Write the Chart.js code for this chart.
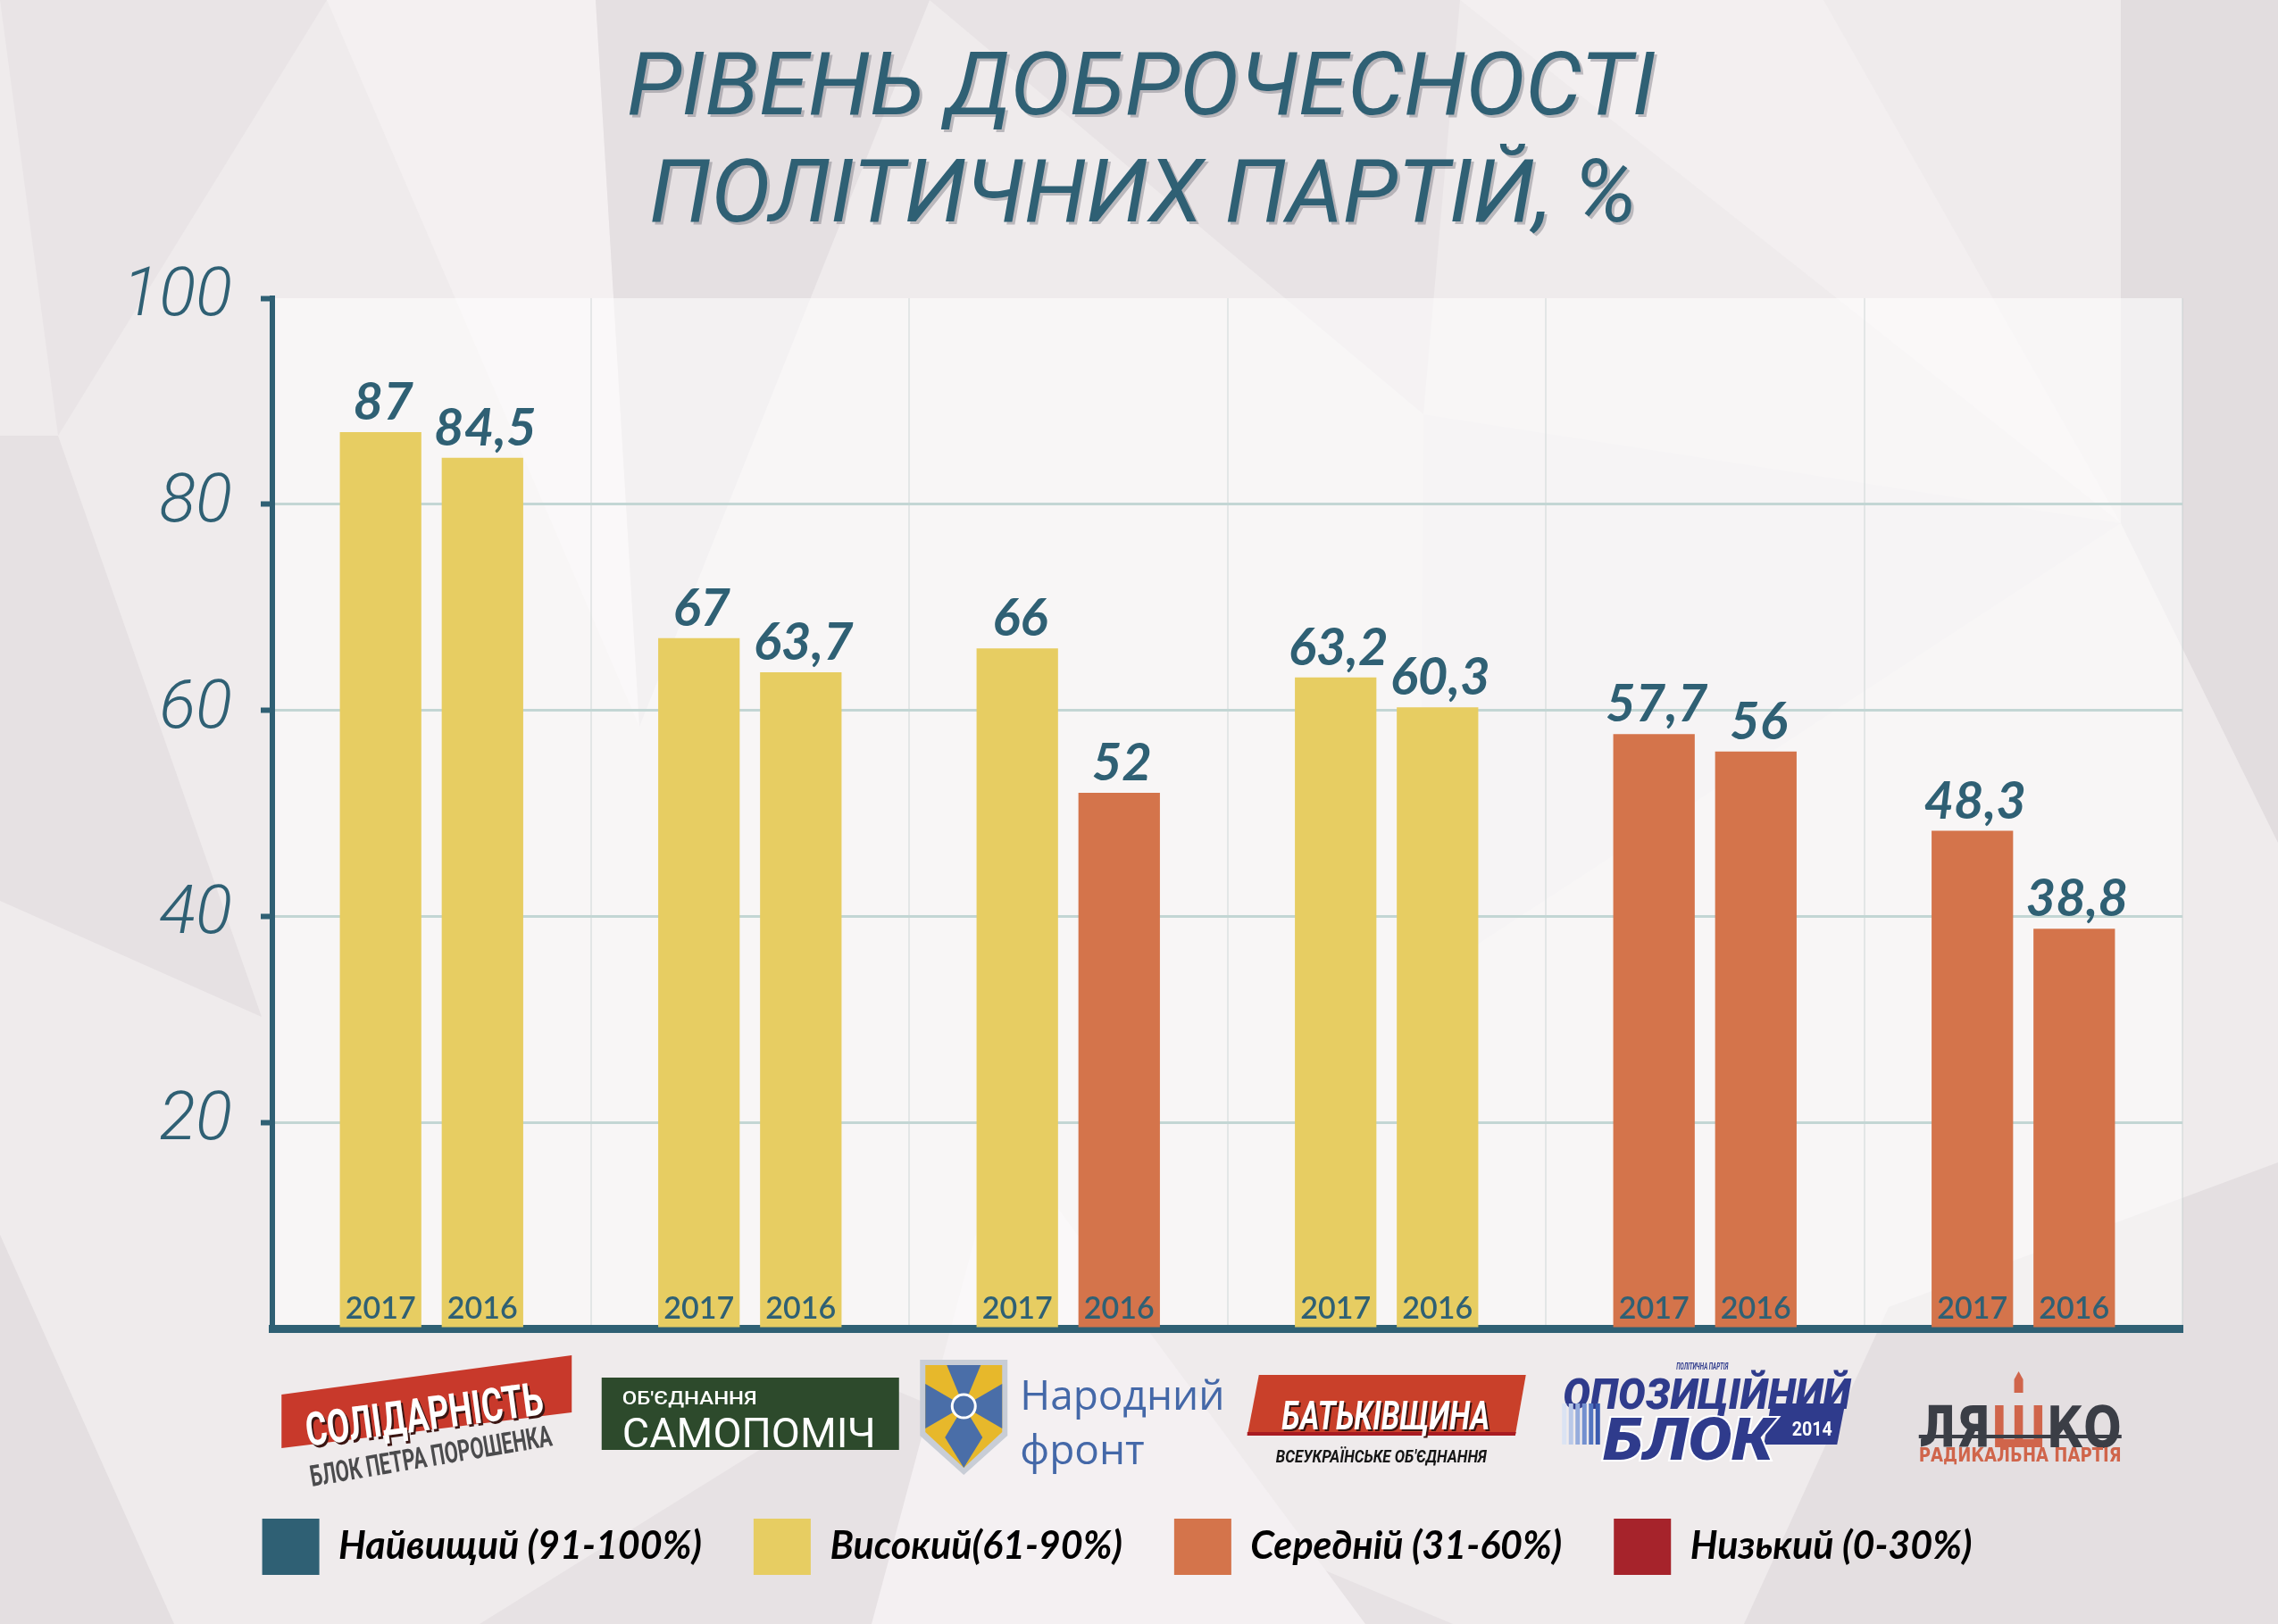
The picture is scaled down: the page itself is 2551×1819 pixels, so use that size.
<!DOCTYPE html>
<html>
<head>
<meta charset="utf-8">
<title>Рівень доброчесності політичних партій</title>
<script src="https://cdn.jsdelivr.net/npm/chart.js@4.4.1/dist/chart.umd.min.js"></script>
<style>
  html, body { margin: 0; padding: 0; background: #efebec; }
  canvas { display: block; }
</style>
</head>
<body>
<canvas id="integrityChart" width="2551" height="1819" style="width:2551px;height:1819px"></canvas>
<script>
// дані з інфографіки
const titleLines = ["РІВЕНЬ ДОБРОЧЕСНОСТІ", "ПОЛІТИЧНИХ ПАРТІЙ, %"];
const parties = ["Солідарність", "Самопоміч", "Народний фронт", "Батьківщина", "Опозиційний блок", "Радикальна партія Ляшка"];
const years = ["2017", "2016"];
const values2017 = [87, 67, 66, 63.2, 57.7, 48.3];
const values2016 = [84.5, 63.7, 52, 60.3, 56, 38.8];
const yTicks = [0, 20, 40, 60, 80, 100];
const levelNames = ["Найвищий (91-100%)", "Високий(61-90%)", "Середній (31-60%)", "Низький (0-30%)"];
const levelColors = ["#2f6074", "#e7cd62", "#d4744b", "#a6232b"];

const TEAL = "#2f6074";

// колір стовпчика за рівнем
function levelColor(v) {
  if (v > 90) return levelColors[0];
  if (v > 60) return levelColors[1];
  if (v > 30) return levelColors[2];
  return levelColors[3];
}

// текст, розтягнутий/стиснутий до заданої ширини
function fitText(ctx, text, x, y, width, align) {
  const w = ctx.measureText(text).width;
  const s = width / w;
  ctx.save();
  ctx.translate(x, y);
  ctx.scale(s, 1);
  ctx.textAlign = align || "center";
  ctx.fillText(text, 0, 0);
  ctx.restore();
}

function poly(ctx, pts, color) {
  ctx.fillStyle = color;
  ctx.beginPath();
  ctx.moveTo(pts[0][0], pts[0][1]);
  for (let i = 1; i < pts.length; i++) ctx.lineTo(pts[i][0], pts[i][1]);
  ctx.closePath();
  ctx.fill();
}

// фон з трикутниками
const bgTriangles = [
  [[[0,0],[366,0],[65,488]], "#e9e4e6"],
  [[[366,0],[667,0],[716,814]], "#f4f0f1"],
  [[[667,0],[1041,0],[716,814]], "#e5e0e2"],
  [[[1041,0],[1635,0],[1594,464]], "#e8e3e5"],
  [[[1635,0],[2042,0],[2375,586]], "#f3eff0"],
  [[[2375,0],[2551,0],[2551,944],[2375,586]], "#e2dddf"],
  [[[0,488],[65,488],[293,1139],[0,1009]], "#e6e1e3"],
  [[[0,1383],[195,1819],[0,1819]], "#e4dfe1"],
  [[[976,1546],[1627,1819],[537,1819]], "#e7e2e4"],
  [[[1123,1270],[1529,1819],[976,1819]], "#f4f0f2"],
  [[[2115,1464],[2551,1302],[2551,1819],[1953,1819]], "#e4dfe1"],
  [[[1594,464],[2375,586],[1590,1100]], "#ece7e9"]
];

const backdropPlugin = {
  id: "backdrop",
  beforeDraw(chart) {
    const ctx = chart.ctx;
    const a = chart.chartArea;
    ctx.save();
    ctx.fillStyle = "#efebec";
    ctx.fillRect(0, 0, chart.width, chart.height);
    bgTriangles.forEach(t => poly(ctx, t[0], t[1]));
    // світла підкладка області графіка
    ctx.fillStyle = "rgba(255,255,255,0.55)";
    ctx.fillRect(a.left, a.top, a.right - a.left, a.bottom - a.top);
    // заголовок
    ctx.fillStyle = TEAL;
    ctx.font = "italic 400 98px Roboto, 'Open Sans', sans-serif";
    ctx.textBaseline = "alphabetic";
    ctx.shadowColor = "rgba(90,90,100,0.35)";
    ctx.shadowOffsetX = 3;
    ctx.shadowOffsetY = 3;
    fitText(ctx, titleLines[0], 1278, 128, 1152);
    fitText(ctx, titleLines[1], 1280, 248, 1106);
    ctx.restore();
  }
};

// підписи значень і років
const barLabelsPlugin = {
  id: "barLabels",
  afterDatasetsDraw(chart) {
    const ctx = chart.ctx;
    ctx.save();
    chart.data.datasets.forEach((ds, di) => {
      const meta = chart.getDatasetMeta(di);
      meta.data.forEach((bar, i) => {
        const v = ds.data[i];
        ctx.fillStyle = TEAL;
        ctx.textAlign = "center";
        ctx.textBaseline = "alphabetic";
        ctx.font = "italic bold 58px Lato, sans-serif";
        ctx.fillText(String(v).replace(".", ","), bar.x + 3, bar.y - 14);
        ctx.font = "600 34px Lato, sans-serif";
        ctx.fillText(ds.label, bar.x, bar.base - 10);
      });
    });
    ctx.restore();
  }
};

// логотипи партій під віссю
function logoSolidarnist(ctx, cx) {
  const x0 = cx - 168, x1 = cx + 157;
  poly(ctx, [[x0, 1562], [x1, 1518], [x1, 1582], [x0, 1622]], "#c8392b");
  const ang = Math.atan2(1518 - 1562, x1 - x0);
  ctx.save();
  ctx.translate((x0 + x1) / 2 - 2, 1589);
  ctx.rotate(ang);
  ctx.font = "bold 52px Roboto, sans-serif";
  ctx.fillStyle = "#3a1512";
  fitText(ctx, "СОЛІДАРНІСТЬ", 2, 3, 268);
  ctx.fillStyle = "#ffffff";
  fitText(ctx, "СОЛІДАРНІСТЬ", 0, 0, 268);
  ctx.restore();
  ctx.save();
  ctx.translate(cx - 2, 1624);
  ctx.rotate(ang * 1.25);
  ctx.font = "bold 33px Roboto, sans-serif";
  ctx.fillStyle = "#4b4b4d";
  fitText(ctx, "БЛОК ПЕТРА ПОРОШЕНКА", 0, 10, 274);
  ctx.restore();
}

function logoSamopomich(ctx, cx) {
  ctx.save();
  ctx.fillStyle = "#2d4a2c";
  ctx.fillRect(cx - 166, 1543, 333, 81);
  ctx.fillStyle = "#ffffff";
  ctx.font = "500 21px Roboto, sans-serif";
  fitText(ctx, "ОБ'ЄДНАННЯ", cx - 143, 1568, 151, "left");
  ctx.font = "46px Roboto, sans-serif";
  fitText(ctx, "САМОПОМІЧ", cx - 143, 1609, 284, "left");
  ctx.restore();
}

function logoNarodnyi(ctx, cx) {
  const L = cx - 166, R = cx - 68, M = (L + R) / 2, cy = 1575;
  poly(ctx, [[L, 1523], [R, 1523], [R, 1608], [M, 1652], [L, 1608]], "#c8cdd6");
  poly(ctx, [[L + 6, 1529], [R - 6, 1529], [R - 6, 1604], [M, 1644], [L + 6, 1604]], "#e7b82b");
  const blue = "#4a6ea8";
  poly(ctx, [[M - 19, 1529], [M + 19, 1529], [M, cy]], blue);
  poly(ctx, [[L + 6, 1550], [L + 6, 1600], [M, cy]], blue);
  poly(ctx, [[R - 6, 1550], [R - 6, 1600], [M, cy]], blue);
  poly(ctx, [[M, cy], [M - 21, 1610], [M, 1644], [M + 21, 1610]], blue);
  ctx.save();
  ctx.strokeStyle = "#ffffff";
  ctx.lineWidth = 3;
  ctx.beginPath();
  ctx.arc(M, cy, 13, 0, Math.PI * 2);
  ctx.fillStyle = blue;
  ctx.fill();
  ctx.stroke();
  ctx.fillStyle = "#4468a8";
  ctx.font = "46px 'Open Sans', sans-serif";
  ctx.textAlign = "left";
  ctx.fillText("Народний", cx - 54, 1566);
  ctx.fillText("фронт", cx - 54, 1627);
  ctx.restore();
}

function logoBatkivshchyna(ctx, cx) {
  poly(ctx, [[cx - 143, 1540], [cx + 156, 1540], [cx + 144, 1608], [cx - 156, 1608]], "#c9402a");
  poly(ctx, [[cx - 156, 1604], [cx + 145, 1604], [cx + 144, 1608], [cx - 156, 1608]], "#a81b22");
  ctx.save();
  ctx.font = "italic bold 44px Roboto, sans-serif";
  ctx.fillStyle = "#3b1410";
  fitText(ctx, "БАТЬКІВЩИНА", cx + 1, 1592, 233);
  ctx.fillStyle = "#ffffff";
  fitText(ctx, "БАТЬКІВЩИНА", cx - 1, 1590, 233);
  ctx.fillStyle = "#151515";
  ctx.font = "italic bold 20px Roboto, sans-serif";
  fitText(ctx, "ВСЕУКРАЇНСЬКЕ ОБ'ЄДНАННЯ", cx - 6, 1633, 236);
  ctx.restore();
}

function logoOpposition(ctx, cx) {
  const navy = "#2f3b8c";
  ctx.save();
  ctx.fillStyle = navy;
  ctx.font = "italic bold 10px Roboto, sans-serif";
  fitText(ctx, "ПОЛІТИЧНА ПАРТІЯ", cx - 3, 1531, 58);
  ctx.font = "italic 900 48px Roboto, sans-serif";
  fitText(ctx, "ОПОЗИЦІЙНИЙ", cx - 159, 1566, 322, "left");
  const stripes = ["#dbe3f3", "#b9c8e8", "#96acdc", "#7390cf", "#5274c0", "#3a5aae"];
  stripes.forEach((c, k) => {
    ctx.fillStyle = c;
    ctx.fillRect(cx - 160 + k * 7.5, 1572, 5, 46);
  });
  poly(ctx, [[cx + 74, 1572], [cx + 157, 1572], [cx + 148, 1618], [cx + 66, 1618]], navy);
  ctx.fillStyle = navy;
  ctx.font = "italic 900 66px Roboto, sans-serif";
  ctx.strokeStyle = "#ffffff";
  ctx.lineWidth = 4;
  ctx.save();
  const w = ctx.measureText("БЛОК").width;
  ctx.translate(cx - 114, 1618);
  ctx.scale(190 / w, 1);
  ctx.strokeText("БЛОК", 0, 0);
  ctx.fillText("БЛОК", 0, 0);
  ctx.restore();
  ctx.fillStyle = "#ffffff";
  ctx.font = "bold 22px Roboto, sans-serif";
  fitText(ctx, "2014", cx + 120, 1602, 45);
  ctx.restore();
}

function logoLyashko(ctx, cx) {
  const dark = "#3b3e46", red = "#d0654b";
  const left = cx - 117, width = 227;
  ctx.save();
  ctx.font = "bold 64px 'DejaVu Sans', sans-serif";
  const parts = [["ЛЯ", dark], ["Ш", red], ["КО", dark]];
  const total = parts.reduce((s, p) => s + ctx.measureText(p[0]).width, 0);
  const s = width / total;
  let x = 0, shCenter = 0;
  ctx.translate(left, 1604);
  ctx.scale(s, 1);
  ctx.textAlign = "left";
  parts.forEach(p => {
    const w = ctx.measureText(p[0]).width;
    if (p[1] === red) shCenter = x + w / 2;
    ctx.fillStyle = p[1];
    ctx.fillText(p[0], x, 0);
    x += w;
  });
  ctx.restore();
  const sx = left + shCenter * s;
  poly(ctx, [[sx - 5, 1560], [sx - 5, 1545], [sx, 1536], [sx + 5, 1545], [sx + 5, 1560]], red);
  ctx.save();
  ctx.fillStyle = dark;
  ctx.fillRect(left, 1607, width, 4);
  ctx.fillStyle = red;
  ctx.font = "bold 21px 'DejaVu Sans', sans-serif";
  fitText(ctx, "РАДИКАЛЬНА ПАРТІЯ", left, 1632, width, "left");
  ctx.restore();
}

const logoDrawers = [logoSolidarnist, logoSamopomich, logoNarodnyi, logoBatkivshchyna, logoOpposition, logoLyashko];

const logosPlugin = {
  id: "logos",
  afterDraw(chart) {
    const ctx = chart.ctx;
    const xScale = chart.scales.x;
    parties.forEach((p, i) => {
      ctx.save();
      logoDrawers[i](ctx, xScale.getPixelForValue(i));
      ctx.restore();
    });
  }
};

const chartArea = document.getElementById("integrityChart").getContext("2d");
const integrityChart = new Chart(chartArea, {
  type: "bar",
  data: {
    labels: parties,
    datasets: [
      { label: years[0], data: values2017, backgroundColor: c => levelColor(c.raw) },
      { label: years[1], data: values2016, backgroundColor: c => levelColor(c.raw) }
    ]
  },
  options: {
    responsive: false,
    animation: false,
    devicePixelRatio: 1,
    categoryPercentage: 0.64,
    barPercentage: 0.8,
    layout: { padding: { top: 334, left: 58, right: 107, bottom: 45 } },
    plugins: {
      title: { display: false },
      tooltip: { enabled: false },
      legend: {
        position: "bottom",
        onClick: null,
        labels: {
          boxWidth: 64,
          boxHeight: 63,
          padding: 58,
          color: TEAL,
          font: { family: "Lato, sans-serif", size: 43, style: "italic", weight: "bold" },
          generateLabels: () => levelNames.map((t, i) => ({
            text: t,
            fillStyle: levelColors[i],
            strokeStyle: levelColors[i],
            lineWidth: 0,
            hidden: false,
            index: i
          }))
        }
      }
    },
    scales: {
      x: {
        ticks: { display: false },
        grid: {
          color: c => c.index === 0 ? "transparent" : "rgba(190,200,200,0.35)",
          lineWidth: 2,
          drawTicks: false
        },
        border: { color: TEAL, width: 9 },
        afterFit: s => { s.height = 155; }
      },
      y: {
        min: 0,
        max: 100,
        afterBuildTicks: s => { s.ticks = yTicks.map(v => ({ value: v })); },
        ticks: {
          color: TEAL,
          padding: 32,
          font: { family: "Roboto, sans-serif", size: 76, style: "italic", weight: "300" },
          callback: v => v === 0 ? "" : v
        },
        grid: {
          color: c => (c.tick && (c.tick.value === 0 || c.tick.value === 100)) ? "transparent" : "#c3d6d4",
          lineWidth: 3,
          tickColor: c => (c.tick && c.tick.value === 0) ? "transparent" : TEAL,
          tickWidth: 6,
          tickLength: 13
        },
        border: { color: TEAL, width: 6 },
        afterFit: s => { s.width = 247; }
      }
    }
  },
  plugins: [backdropPlugin, barLabelsPlugin, logosPlugin]
});
</script>
</body>
</html>
